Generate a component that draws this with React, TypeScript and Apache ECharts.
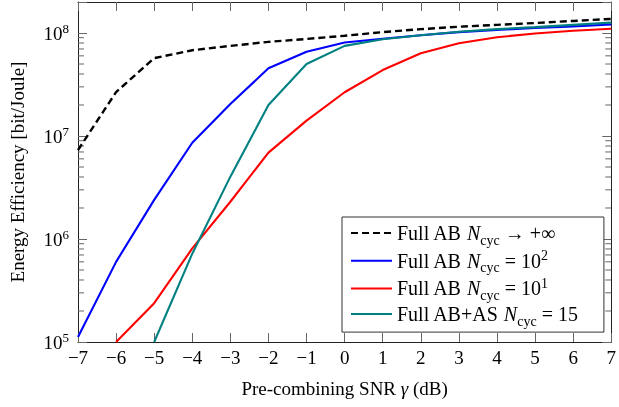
import React, { useEffect, useRef } from "react";
import * as echarts from "echarts";

const snr = [-7, -6, -5, -4, -3, -2, -1, 0, 1, 2, 3, 4, 5, 6, 7];
const fullInf = [7.3e6, 2.67e7, 5.7e7, 6.8e7, 7.5e7, 8.2e7, 8.75e7, 9.4e7, 1.02e8, 1.09e8, 1.15e8, 1.2e8, 1.25e8, 1.31e8, 1.37e8];
const full100 = [1.12e5, 6.0e5, 2.4e6, 8.6e6, 2.05e7, 4.54e7, 6.58e7, 8.1e7, 8.8e7, 9.5e7, 1.02e8, 1.07e8, 1.12e8, 1.16e8, 1.21e8];
const full10 = [null, 1.0e5, 2.38e5, 8.1e5, 2.3e6, 6.9e6, 1.41e7, 2.66e7, 4.37e7, 6.35e7, 7.95e7, 9.1e7, 9.9e7, 1.05e8, 1.1e8];
const fullAs15 = [null, null, 1.0e5, 7.2e5, 4.03e6, 2.0e7, 5.0e7, 7.5e7, 8.7e7, 9.5e7, 1.03e8, 1.09e8, 1.14e8, 1.2e8, 1.26e8];

const yMin = 1e5;
const yMax = 2e8;
const minorMantissas = [2, 3, 4, 5, 6, 7, 8, 9];
const minorDecades = [1e5, 1e6, 1e7, 1e8];

const seriesNames = ["inf", "n100", "n10", "as15"];
const legendTexts: Record<string, string> = {
  inf: "Full AB {i|N}{sub|cyc} → +∞",
  n100: "Full AB {i|N}{sub|cyc} = 10{sup|2}",
  n10: "Full AB {i|N}{sub|cyc} = 10{sup|1}",
  as15: "Full AB+AS {i|N}{sub|cyc} = 15",
};

const FONT = "Liberation Serif";
const TICK = "#666";

export default function App() {
  const ref = useRef<HTMLDivElement>(null);
  useEffect(() => {
    if (!ref.current) return;
    const chart = echarts.init(ref.current, undefined, { renderer: "svg" });
    const minorData: number[][] = [];
    minorDecades.forEach((d) =>
      minorMantissas.forEach((m) => {
        const v = m * d;
        if (v < yMax) minorData.push([-7, v]);
      })
    );
    const pair = (arr: (number | null)[]) => snr.map((x, i) => [x, arr[i]]);
    const supLabel = (v: number) => {
      const e = Math.round(Math.log10(v));
      if (Math.abs(Math.pow(10, e) - v) / v > 1e-6) return "";
      return "{b|10}{s|" + e + "}";
    };
    const axisLine = { show: true, onZero: false, lineStyle: { color: "#222", width: 1 } };
    const axisTick = { show: true, inside: true, length: 9, lineStyle: { color: TICK } };
    chart.setOption({
      animation: false,
      textStyle: { fontFamily: FONT },
      grid: { left: 78, right: 3, top: 2, bottom: 65, containLabel: false },
      xAxis: [
        {
          type: "value",
          min: -7,
          max: 7,
          interval: 1,
          name: "Pre-combining SNR {g|γ} (dB)",
          nameLocation: "middle",
          nameGap: 37,
          nameTextStyle: {
            fontFamily: FONT,
            fontSize: 19,
            color: "#000",
            rich: { g: { fontFamily: FONT, fontStyle: "italic", fontSize: 19, color: "#000" } },
          },
          axisLine,
          axisTick,
          axisLabel: {
            fontFamily: FONT,
            fontSize: 19,
            color: "#000",
            margin: 6,
            formatter: (v: number) => (v < 0 ? "\u2212" + Math.abs(v) : String(v)),
          },
          splitLine: { show: false },
        },
        {
          type: "value",
          position: "top",
          min: -7,
          max: 7,
          interval: 1,
          axisLine,
          axisTick,
          axisLabel: { show: false },
          splitLine: { show: false },
        },
      ],
      yAxis: [
        {
          type: "log",
          logBase: 10,
          min: yMin,
          max: yMax,
          name: "Energy Efficiency [bit/Joule]",
          nameLocation: "middle",
          nameGap: 51,
          nameTextStyle: { fontFamily: FONT, fontSize: 19, color: "#000" },
          axisLine,
          axisTick,
          axisLabel: {
            fontFamily: FONT,
            fontSize: 19,
            color: "#000",
            margin: 9,
            formatter: supLabel,
            rich: {
              b: { fontFamily: FONT, fontSize: 19, color: "#000", lineHeight: 22 },
              s: { fontFamily: FONT, fontSize: 13, color: "#000", lineHeight: 13, verticalAlign: "top" },
            },
          },
          splitLine: { show: false },
        },
        {
          type: "log",
          logBase: 10,
          position: "right",
          min: yMin,
          max: yMax,
          axisLine,
          axisTick,
          axisLabel: { show: false },
          splitLine: { show: false },
        },
      ],
      legend: {
        data: seriesNames,
        orient: "vertical",
        left: 342,
        top: 217,
        padding: [6, 26, 4, 8],
        itemWidth: 41,
        itemHeight: 14,
        itemGap: 1.7,
        backgroundColor: "#fff",
        borderColor: "#333",
        borderWidth: 1,
        borderRadius: 0,
        itemStyle: { opacity: 0 },
        formatter: (name: string) => legendTexts[name],
        textStyle: {
          fontFamily: FONT,
          fontSize: 20,
          color: "#000",
          lineHeight: 20,
          rich: {
            i: { fontFamily: FONT, fontStyle: "italic", fontSize: 20, color: "#000", lineHeight: 20 },
            sub: { fontFamily: FONT, fontSize: 14, color: "#000", lineHeight: 14, verticalAlign: "bottom", padding: [0, 0, -4, 0] },
            sup: { fontFamily: FONT, fontSize: 14, color: "#000", lineHeight: 14, verticalAlign: "top", padding: [-2, 0, 0, 0] },
          },
        },
      },
      series: [
        {
          name: "inf",
          type: "line",
          data: pair(fullInf),
          symbol: "none",
          lineStyle: { color: "#000", width: 2.4, type: [7, 4] },
          itemStyle: { color: "#000" },
          z: 5,
        },
        {
          name: "n100",
          type: "line",
          data: pair(full100),
          symbol: "none",
          lineStyle: { color: "#0000ff", width: 2.1 },
          itemStyle: { color: "#0000ff" },
        },
        {
          name: "n10",
          type: "line",
          data: pair(full10),
          symbol: "none",
          lineStyle: { color: "#ff0000", width: 2.1 },
          itemStyle: { color: "#ff0000" },
        },
        {
          name: "as15",
          type: "line",
          data: pair(fullAs15),
          symbol: "none",
          lineStyle: { color: "#008080", width: 2.1 },
          itemStyle: { color: "#008080" },
        },
        {
          name: "minor",
          type: "custom",
          silent: true,
          data: minorData,
          encode: { x: 0, y: 1 },
          renderItem: (_params: any, api: any) => {
            const v = api.value(1);
            const p = api.coord([-7, v]);
            const q = api.coord([7, v]);
            return {
              type: "group",
              children: [
                { type: "line", shape: { x1: p[0], y1: p[1], x2: p[0] + 6, y2: p[1] }, style: { stroke: TICK, lineWidth: 1 } },
                { type: "line", shape: { x1: q[0] - 6, y1: q[1], x2: q[0], y2: q[1] }, style: { stroke: TICK, lineWidth: 1 } },
              ],
            };
          },
        },
      ],
    });
    return () => chart.dispose();
  }, []);
  return <div ref={ref} style={{ position: "fixed", left: 0, top: 0, width: 619, height: 407 }} />;
}
